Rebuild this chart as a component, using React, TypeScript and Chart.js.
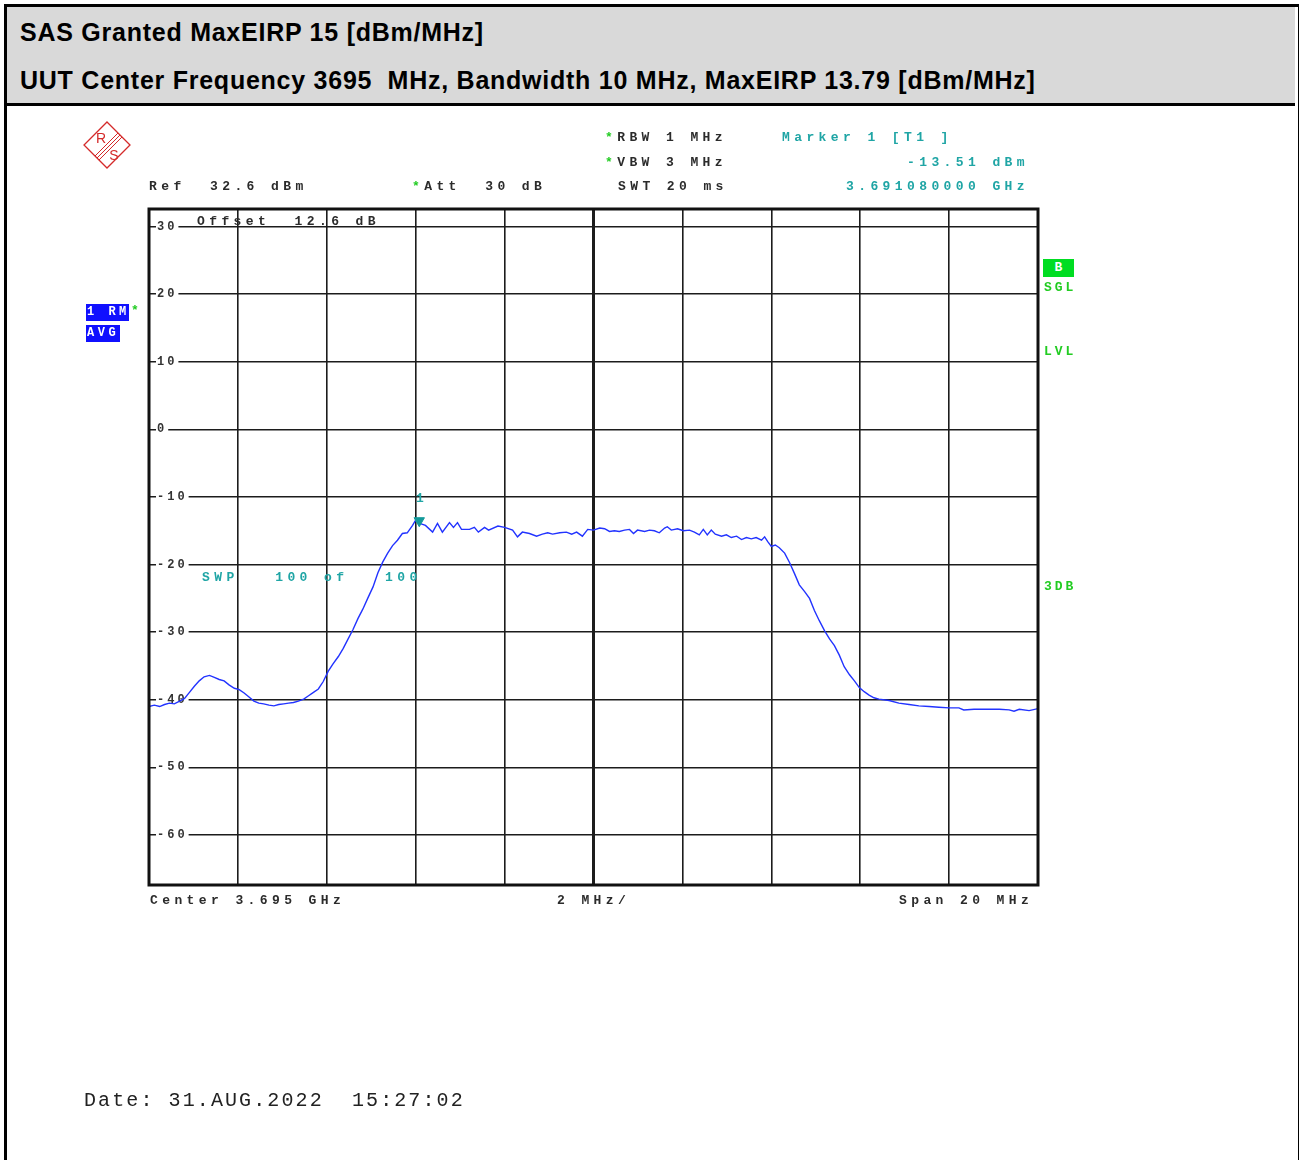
import React, { useEffect, useRef } from "react";
import { Chart, registerables } from "chart.js";

Chart.register(...registerables);

// ---- data (frequency in MHz, level in dBm) ----
const freqMHz = [
  3685.0, 3685.12, 3685.24, 3685.35, 3685.46, 3685.57, 3685.69, 3685.8, 3685.91, 3686.02,
  3686.13, 3686.24, 3686.36, 3686.47, 3686.58, 3686.69, 3686.8, 3686.92, 3687.03, 3687.14,
  3687.25, 3687.36, 3687.47, 3687.58, 3687.7, 3687.81, 3687.92, 3688.03, 3688.14, 3688.25,
  3688.36, 3688.48, 3688.59, 3688.7, 3688.81, 3688.92, 3689.03, 3689.14, 3689.26, 3689.37,
  3689.48, 3689.59, 3689.7, 3689.81, 3689.92, 3690.04, 3690.15, 3690.26, 3690.37, 3690.48,
  3690.59, 3690.7, 3690.81, 3690.93, 3691.0, 3691.09, 3691.22, 3691.38, 3691.49, 3691.6,
  3691.76, 3691.85, 3691.94, 3692.03, 3692.21, 3692.32, 3692.41, 3692.55, 3692.64, 3692.85,
  3693.0, 3693.18, 3693.29, 3693.4, 3693.56, 3693.72, 3693.85, 3693.97, 3694.08, 3694.24,
  3694.39, 3694.51, 3694.62, 3694.75, 3694.87, 3695.0, 3695.14, 3695.25, 3695.36, 3695.47,
  3695.58, 3695.7, 3695.81, 3695.9, 3695.99, 3696.15, 3696.26, 3696.37, 3696.48, 3696.6,
  3696.66, 3696.75, 3696.89, 3697.02, 3697.16, 3697.27, 3697.38, 3697.47, 3697.56, 3697.65,
  3697.74, 3697.88, 3697.99, 3698.1, 3698.22, 3698.33, 3698.44, 3698.55, 3698.66, 3698.78,
  3698.85, 3698.92, 3699.0, 3699.09, 3699.18, 3699.3, 3699.41, 3699.52, 3699.63, 3699.75,
  3699.86, 3699.97, 3700.08, 3700.2, 3700.31, 3700.42, 3700.53, 3700.64, 3700.76, 3700.87,
  3700.98, 3701.09, 3701.2, 3701.31, 3701.42, 3701.65, 3701.87, 3702.1, 3702.32, 3702.55,
  3702.77, 3703.0, 3703.22, 3703.33, 3703.56, 3703.9, 3704.13, 3704.35, 3704.46, 3704.58,
  3704.8, 3705.0,
];

const levelDbm = [
  -41.0, -40.8, -41.0, -40.7, -40.5, -40.6, -40.2, -39.8, -38.9, -38.0,
  -37.2, -36.6, -36.4, -36.7, -37.0, -37.2, -37.8, -38.3, -38.5, -39.0,
  -39.6, -40.2, -40.5, -40.6, -40.8, -40.9, -40.7, -40.6, -40.5, -40.4,
  -40.2, -39.9, -39.4, -38.9, -38.4, -37.3, -35.8, -34.7, -33.6, -32.4,
  -31.0, -29.6, -28.0, -26.6, -25.0, -23.3, -21.2, -19.6, -18.3, -17.2,
  -16.4, -15.4, -15.3, -14.2, -13.4, -13.9, -14.2, -15.2, -13.9, -15.2,
  -13.8, -14.5, -13.8, -14.8, -14.8, -14.5, -15.2, -14.5, -14.9, -14.3,
  -14.5, -14.9, -15.9, -15.2, -15.4, -15.8, -15.5, -15.3, -15.5, -15.3,
  -15.2, -15.5, -15.2, -15.8, -14.8, -14.9, -14.6, -14.7, -15.1, -15.0,
  -15.1, -14.9, -14.8, -15.4, -14.9, -15.1, -14.9, -15.0, -15.3, -14.6,
  -14.4, -14.9, -14.7, -15.0, -14.9, -15.2, -15.6, -14.8, -15.6, -14.9,
  -15.5, -15.8, -15.6, -16.0, -15.8, -16.3, -16.0, -16.2, -16.0, -16.4,
  -15.9, -16.6, -17.3, -17.1, -17.5, -18.3, -19.7, -21.3, -23.0, -24.0,
  -25.0, -26.8, -28.3, -29.8, -31.0, -32.0, -33.4, -35.1, -36.3, -37.2,
  -38.2, -38.8, -39.3, -39.7, -39.9, -40.1, -40.5, -40.7, -40.9, -41.0,
  -41.1, -41.2, -41.2, -41.5, -41.4, -41.4, -41.4, -41.5, -41.7, -41.4,
  -41.6, -41.3,
];

const markerFreq = [3691.08];
const markerLevel = [-13.51];

const yTicks = [30, 20, 10, 0, -10, -20, -30, -40, -50, -60];
const xTicks = [3685, 3687, 3689, 3691, 3693, 3695, 3697, 3699, 3701, 3703, 3705];
const refLevel = 32.6;
const rangeDb = 100;
const centerMHz = 3695;
const spanMHz = 20;

// ---- styles ----
const DARK = "#2b2b2b";
const TEAL = "#1fa5a5";
const GREEN = "#22cc22";

const mono: React.CSSProperties = {
  position: "absolute",
  fontFamily: '"Liberation Mono", "DejaVu Sans Mono", monospace',
  fontWeight: "bold",
  fontSize: 13,
  lineHeight: "12px",
  letterSpacing: "4.4px",
  whiteSpace: "pre",
  color: DARK,
};

function T(props: { x: number; y: number; color?: string; children: React.ReactNode; style?: React.CSSProperties }) {
  return (
    <div style={{ ...mono, left: props.x, top: props.y - 6, color: props.color || DARK, ...(props.style || {}) }}>
      {props.children}
    </div>
  );
}

const headerFont: React.CSSProperties = {
  position: "absolute",
  left: 20,
  fontFamily: '"Liberation Sans", Arial, sans-serif',
  fontWeight: "bold",
  fontSize: 25,
  letterSpacing: "0.75px",
  lineHeight: "30px",
  whiteSpace: "pre",
  color: "#000",
};

export default function App() {
  const ref = useRef<HTMLCanvasElement | null>(null);

  useEffect(() => {
    const canvas = ref.current;
    if (!canvas) return;

    const spacingPlugin = {
      id: "spacing",
      beforeUpdate(chart: any) {
        (chart.ctx as any).letterSpacing = "3px";
      },
      beforeDraw(chart: any) {
        (chart.ctx as any).letterSpacing = "3px";
      },
    };

    const framePlugin = {
      id: "frame",
      afterDraw(chart: any) {
        const { ctx, chartArea } = chart;
        ctx.save();
        ctx.strokeStyle = "#111";
        ctx.lineWidth = 3;
        ctx.strokeRect(chartArea.left, chartArea.top, chartArea.right - chartArea.left, chartArea.bottom - chartArea.top);
        ctx.restore();
      },
    };

    const chart = new Chart(canvas, {
      type: "line",
      data: {
        datasets: [
          {
            data: freqMHz.map((f, i) => ({ x: f, y: levelDbm[i] })),
            borderColor: "#2233ff",
            borderWidth: 1.4,
            pointRadius: 0,
            tension: 0,
            order: 2,
          },
          {
            data: markerFreq.map((f, i) => ({ x: f, y: markerLevel[i] })),
            showLine: false,
            pointStyle: "triangle",
            rotation: 180,
            pointRadius: 6,
            backgroundColor: "#139a9a",
            borderColor: "#139a9a",
            order: 1,
          },
        ],
      },
      options: {
        responsive: false,
        animation: false,
        layout: { padding: { left: 133, top: 209, right: 261, bottom: 275 } },
        plugins: { legend: { display: false }, tooltip: { enabled: false } },
        scales: {
          x: {
            type: "linear",
            min: centerMHz - spanMHz / 2,
            max: centerMHz + spanMHz / 2,
            afterBuildTicks: (s: any) => {
              s.ticks = xTicks.map((v) => ({ value: v }));
            },
            ticks: { display: false },
            grid: {
              color: "#1c1c1c",
              lineWidth: (c: any) => (c.tick && c.tick.value === centerMHz ? 3 : 1.6),
              drawTicks: false,
            },
            border: { display: false },
          },
          y: {
            type: "linear",
            min: refLevel - rangeDb,
            max: refLevel,
            afterBuildTicks: (s: any) => {
              s.ticks = yTicks.map((v) => ({ value: v }));
            },
            ticks: {
              mirror: true,
              padding: 8,
              color: "#333",
              font: { family: "Liberation Mono", size: 12, weight: "bold" },
              showLabelBackdrop: true,
              backdropColor: "#ffffff",
              backdropPadding: { x: 1, y: 0 },
            },
            grid: { color: "#1c1c1c", lineWidth: 1.6, drawTicks: false },
            border: { display: false },
          },
        },
      },
      plugins: [spacingPlugin, framePlugin],
    } as any);

    return () => chart.destroy();
  }, []);

  return (
    <div style={{ position: "absolute", left: 0, top: 0, width: 1299, height: 1160, background: "#fff", overflow: "hidden" }}>
      {/* outer frame */}
      <div style={{ position: "absolute", left: 4, top: 4, width: 1291, height: 1170, border: "3px solid #000" }} />
      {/* header */}
      <div style={{ position: "absolute", left: 7, top: 7, width: 1288, height: 96, background: "#d9d9d9", borderBottom: "3px solid #000" }} />
      <div style={{ ...headerFont, top: 17 }}>SAS Granted MaxEIRP 15 [dBm/MHz]</div>
      <div style={{ ...headerFont, top: 65 }}>UUT Center Frequency 3695  MHz, Bandwidth 10 MHz, MaxEIRP 13.79 [dBm/MHz]</div>

      <canvas ref={ref} width={1299} height={1160} style={{ position: "absolute", left: 0, top: 0, width: 1299, height: 1160 }} />

      {/* R&S logo */}
      <svg width={60} height={60} style={{ position: "absolute", left: 77, top: 115 }}>
        <polygon points="30,7 53,30 30,53 7,30" fill="none" stroke="#d42a2a" strokeWidth={1.3} />
        <line x1={43} y1={20} x2={20} y2={43} stroke="#d42a2a" strokeWidth={1} />
        <line x1={41} y1={18} x2={18} y2={41} stroke="#d42a2a" strokeWidth={1} />
        <line x1={45} y1={22} x2={22} y2={45} stroke="#d42a2a" strokeWidth={1} />
        <text x={24} y={28} fontFamily="Liberation Sans" fontSize={14} fill="#d42a2a" textAnchor="middle">R</text>
        <text x={37} y={45} fontFamily="Liberation Sans" fontSize={14} fill="#d42a2a" textAnchor="middle">S</text>
      </svg>

      {/* instrument settings */}
      <T x={149} y={187}>Ref  32.6 dBm</T>
      <T x={412} y={187}><span style={{ color: GREEN }}>*</span>Att  30 dB</T>
      <T x={605} y={138}><span style={{ color: GREEN }}>*</span>RBW 1 MHz</T>
      <T x={605} y={163}><span style={{ color: GREEN }}>*</span>VBW 3 MHz</T>
      <T x={618} y={187}>SWT 20 ms</T>
      <T x={782} y={138} color={TEAL}>Marker 1 [T1 ]</T>
      <T x={907} y={163} color={TEAL}>-13.51 dBm</T>
      <T x={846} y={187} color={TEAL}>3.691080000 GHz</T>
      <T x={197} y={222}>Offset  12.6 dB</T>
      <T x={202} y={578} color={TEAL}>SWP   100 of   100</T>
      <T x={416} y={499} color={TEAL}>1</T>

      {/* left trace label */}
      <div style={{ ...mono, fontSize: 12, left: 86, top: 304, height: 17, lineHeight: "17px", background: "#1010ff", color: "#fff", letterSpacing: "3.5px", paddingLeft: 1, width: 42 }}>1 RM</div>
      <div style={{ ...mono, left: 131, top: 305, color: GREEN }}>*</div>
      <div style={{ ...mono, fontSize: 12, left: 86, top: 325, height: 17, lineHeight: "17px", background: "#1010ff", color: "#fff", letterSpacing: "3.5px", paddingLeft: 1, width: 33 }}>AVG</div>

      {/* right status labels */}
      <div style={{ ...mono, left: 1043, top: 259, width: 31, height: 18, lineHeight: "18px", background: "#00dd22", color: "#fff", letterSpacing: 0, textAlign: "center" }}>B</div>
      <T x={1044} y={288} color={GREEN} style={{ letterSpacing: "3px" }}>SGL</T>
      <T x={1044} y={352} color={GREEN} style={{ letterSpacing: "3px" }}>LVL</T>
      <T x={1044} y={587} color={GREEN} style={{ letterSpacing: "3px" }}>3DB</T>

      {/* bottom axis labels */}
      <T x={150} y={901}>Center 3.695 GHz</T>
      <T x={557} y={901}>2 MHz/</T>
      <T x={899} y={901}>Span 20 MHz</T>

      <div style={{ position: "absolute", left: 84, top: 1089, fontFamily: '"Liberation Mono", monospace', fontSize: 20, lineHeight: "24px", letterSpacing: "2.1px", whiteSpace: "pre", color: "#222" }}>
        Date: 31.AUG.2022  15:27:02
      </div>
    </div>
  );
}
